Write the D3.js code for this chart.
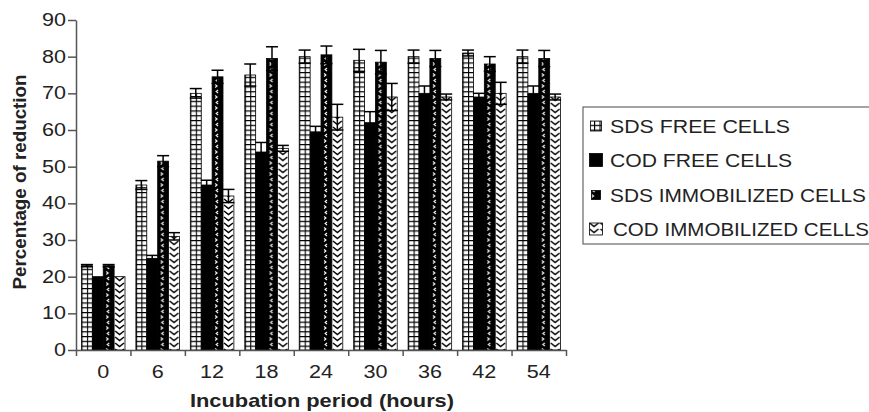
<!DOCTYPE html>
<html>
<head>
<meta charset="utf-8">
<script src="https://cdn.jsdelivr.net/npm/d3@7"></script>
<style>
  body { margin: 0; background: #fff; }
  svg { display: block; font-family: Arial, "Liberation Sans", sans-serif; }
</style>
</head>
<body>
<script>
// Data
const periods = ['0', '6', '12', '18', '24', '30', '36', '42', '54'];
const seriesNames = ['SDS FREE CELLS', 'COD FREE CELLS', 'SDS IMMOBILIZED CELLS', 'COD IMMOBILIZED CELLS'];
const sdsFree = [23, 45, 70, 75, 80, 79, 80, 81, 80];
const sdsFreeErr = [0.3, 1.2, 1.3, 3, 1.8, 3, 1.8, 0.8, 1.8];
const codFree = [20, 25, 45, 54, 59.5, 62, 70, 69, 70];
const codFreeErr = [0, 0.8, 1.3, 2.6, 1.5, 3, 2, 1, 2];
const sdsImm = [23, 51.5, 74.5, 79.5, 80.5, 78.5, 79.5, 78, 79.5];
const sdsImmErr = [0.3, 1.5, 1.8, 3.2, 2.4, 3.2, 2.2, 2, 2.2];
const codImm = [20, 31, 42, 55, 63.5, 69, 69, 70, 69];
const codImmErr = [0, 1, 1.8, 0.8, 3.5, 3.7, 0.8, 3, 0.8];
const yTicks = [0, 10, 20, 30, 40, 50, 60, 70, 80, 90];

const values = [sdsFree, codFree, sdsImm, codImm];
const errors = [sdsFreeErr, codFreeErr, sdsImmErr, codImmErr];
const fills = ['url(#grid)', '#000', 'url(#dots)', 'url(#zig)'];

const width = 869, height = 412;
const svg = d3.select('body').append('svg').attr('width', width).attr('height', height);

// Patterns
const defs = svg.append('defs');
const grid = defs.append('pattern').attr('id', 'grid').attr('patternUnits', 'userSpaceOnUse')
    .attr('width', 5.45).attr('height', 4.8);
grid.append('rect').attr('width', 5.45).attr('height', 4.8).attr('fill', '#fff');
grid.append('path').attr('d', 'M0,0H5.45M0,0V4.8').attr('stroke', '#000').attr('stroke-width', 2.2);

const dots = defs.append('pattern').attr('id', 'dots').attr('patternUnits', 'userSpaceOnUse')
    .attr('width', 10.9).attr('height', 11);
dots.append('rect').attr('width', 10.9).attr('height', 11).attr('fill', '#000');
dots.append('path').attr('d', 'M6,2 L4,3.5 L6,5').attr('stroke', '#fff').attr('stroke-width', 1).attr('fill', 'none');
dots.append('path').attr('d', 'M3,7.5 L5,9 L3,10.5').attr('stroke', '#fff').attr('stroke-width', 1).attr('fill', 'none');

const zig = defs.append('pattern').attr('id', 'zig').attr('patternUnits', 'userSpaceOnUse')
    .attr('width', 10.9).attr('height', 6);
zig.append('rect').attr('width', 10.9).attr('height', 6).attr('fill', '#fff');
zig.append('path').attr('d', 'M1,1 L5.45,4.5 L9.9,1').attr('stroke', '#000').attr('stroke-width', 1.5).attr('fill', 'none');

// Scales
const plotLeft = 76, plotRight = 566, plotTop = 20, plotBottom = 350;
const x0 = d3.scaleBand().domain(periods).range([plotLeft, plotRight]).paddingInner(0.2).paddingOuter(0.1);
const x1 = d3.scaleBand().domain(d3.range(4)).range([0, x0.bandwidth()]);
const y = d3.scaleLinear().domain([0, 90]).range([plotBottom, plotTop]);
const xEdge = d3.scaleLinear().domain([0, periods.length]).range([plotLeft, plotRight]);

// Bars
const groups = svg.append('g').selectAll('g').data(periods).join('g')
    .attr('transform', d => `translate(${x0(d)},0)`);

groups.selectAll('rect').data((d, i) => values.map((s, k) => ({k, v: s[i]}))).join('rect')
    .attr('x', d => x1(d.k))
    .attr('y', d => y(d.v))
    .attr('width', x1.bandwidth())
    .attr('height', d => y(0) - y(d.v))
    .attr('fill', d => fills[d.k])
    .attr('stroke', '#000')
    .attr('stroke-width', 0.8);

// Error bars
const eb = groups.selectAll('g.err').data((d, i) => values.map((s, k) => ({k, v: s[i], e: errors[k][i]}))
    .filter(d => d.e > 0)).join('g').attr('class', 'err')
    .attr('stroke', '#000').attr('stroke-width', 1.5);
const cx = d => x1(d.k) + x1.bandwidth() / 2;
const cap = 6;
eb.append('line').attr('x1', cx).attr('x2', cx).attr('y1', d => y(d.v + d.e)).attr('y2', d => y(d.v - d.e));
eb.append('line').attr('x1', d => cx(d) - cap).attr('x2', d => cx(d) + cap)
    .attr('y1', d => y(d.v + d.e)).attr('y2', d => y(d.v + d.e));
eb.append('line').attr('x1', d => cx(d) - cap).attr('x2', d => cx(d) + cap)
    .attr('y1', d => y(d.v - d.e)).attr('y2', d => y(d.v - d.e));

// Y axis
const yAxis = svg.append('g').attr('transform', `translate(${plotLeft},0)`)
    .call(d3.axisLeft(y).tickValues(yTicks).tickSize(8).tickSizeOuter(0).tickPadding(2));
yAxis.selectAll('path, line').attr('stroke', '#555').attr('stroke-width', 1.5);
yAxis.selectAll('text').attr('font-size', 17.5).attr('fill', '#222')
    .attr('textLength', d => String(d).length * 12).attr('lengthAdjust', 'spacingAndGlyphs');

// X axis: ticks at category edges, labels at centers
const xAxis = svg.append('g').attr('transform', `translate(0,${plotBottom})`)
    .call(d3.axisBottom(xEdge).tickValues(d3.range(periods.length + 1)).tickSize(6).tickSizeOuter(0).tickFormat(''));
xAxis.selectAll('path, line').attr('stroke', '#555').attr('stroke-width', 1.5);

const xLabels = svg.append('g').attr('transform', `translate(0,${plotBottom})`)
    .call(d3.axisBottom(x0).tickSize(0).tickPadding(16));
xLabels.select('.domain').remove();
xLabels.selectAll('text').attr('font-size', 17.5).attr('fill', '#222')
    .attr('textLength', d => d.length * 12).attr('lengthAdjust', 'spacingAndGlyphs');

// Axis titles
svg.append('text')
    .attr('x', 322).attr('y', 407)
    .attr('text-anchor', 'middle')
    .attr('font-size', 18.5).attr('font-weight', 'bold').attr('fill', '#222')
    .attr('textLength', 264).attr('lengthAdjust', 'spacingAndGlyphs')
    .text('Incubation period (hours)');

svg.append('text')
    .attr('transform', 'translate(26,182) rotate(-90)')
    .attr('text-anchor', 'middle')
    .attr('font-size', 19).attr('font-weight', 'bold').attr('fill', '#222')
    .attr('textLength', 215).attr('lengthAdjust', 'spacingAndGlyphs')
    .text('Percentage of reduction');

// Legend
const legend = svg.append('g');
legend.append('rect')
    .attr('x', 583).attr('y', 107).attr('width', 300).attr('height', 137)
    .attr('fill', 'none').attr('stroke', '#666').attr('stroke-width', 1.2);

const rowY = [126, 160, 195, 229];
const swatch = [[11, 10], [13, 13], [9, 9], [13, 12]];
const items = legend.selectAll('g.item').data(seriesNames).join('g').attr('class', 'item');
items.append('rect')
    .attr('x', (d, i) => 596 - swatch[i][0] / 2)
    .attr('y', (d, i) => rowY[i] - swatch[i][1] / 2)
    .attr('width', (d, i) => swatch[i][0])
    .attr('height', (d, i) => swatch[i][1])
    .attr('fill', (d, i) => fills[i])
    .attr('stroke', '#000').attr('stroke-width', 0.8);
items.append('text')
    .attr('x', (d, i) => i === 3 ? 613 : 610)
    .attr('y', (d, i) => rowY[i] + 7)
    .attr('font-size', 19).attr('fill', '#222')
    .attr('textLength', (d, i) => [180, 182, 256, 256][i]).attr('lengthAdjust', 'spacingAndGlyphs')
    .text(d => d);
</script>
</body>
</html>
